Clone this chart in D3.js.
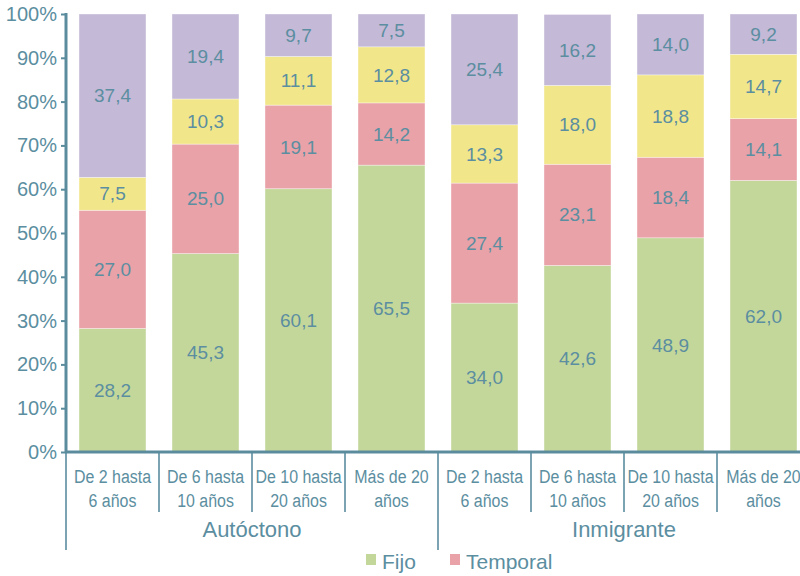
<!DOCTYPE html>
<html><head><meta charset="utf-8">
<script src="https://cdn.jsdelivr.net/npm/d3@7"></script>
<style>
html,body{margin:0;padding:0;background:#fff;}
svg{display:block;}
text{font-family:"Liberation Sans",Arial,sans-serif;fill:#5b8ea0;}
</style></head>
<body>
<svg id="chart" width="800" height="576"></svg>
<script>
const groups = ["Autóctono", "Inmigrante"];
const periods = [["De 2 hasta","6 años"],["De 6 hasta","10 años"],["De 10 hasta","20 años"],["Más de 20","años"]];
const seriesNames = ["Fijo", "Temporal", "Otro 1", "Otro 2"];
const fijo     = [28.2, 45.3, 60.1, 65.5, 34.0, 42.6, 48.9, 62.0];
const temporal = [27.0, 25.0, 19.1, 14.2, 27.4, 23.1, 18.4, 14.1];
const otro1    = [7.5, 10.3, 11.1, 12.8, 13.3, 18.0, 18.8, 14.7];
const otro2    = [37.4, 19.4, 9.7, 7.5, 25.4, 16.2, 14.0, 9.2];
const yTicks = [0,10,20,30,40,50,60,70,80,90,100];
const colors = ["#c4d79b", "#e8a2a8", "#f2e68a", "#c4b9d7"];
const legendShown = ["Fijo", "Temporal"];

const svg = d3.select("#chart");
const textColor = "#5b8ea0";
const axisColor = "#5a8c9e";

const cats = [];
groups.forEach((g,gi)=>periods.forEach((p,pi)=>cats.push({id:g+"|"+pi, group:g, gi, lines:p})));
const rows = cats.map((c,i)=>({id:c.id, s0:fijo[i], s1:temporal[i], s2:otro1[i], s3:otro2[i]}));

const x = d3.scaleBand().domain(cats.map(c=>c.id)).range([66, 66+93*8]).paddingInner(0.28).paddingOuter(0.14);
const y = d3.scaleLinear().domain([0,100]).range([452,14]);

const stack = d3.stack().keys(["s0","s1","s2","s3"]);
const layers = stack(rows);

const g = svg.append("g");
layers.forEach((layer, li)=>{
  g.selectAll(null).data(layer).enter().append("rect")
    .attr("x", d=>x(d.data.id))
    .attr("width", x.bandwidth())
    .attr("y", d=>y(Math.min(100,d[1])))
    .attr("height", d=>y(d[0]) - y(Math.min(100,d[1])))
    .attr("fill", colors[li])
    .attr("stroke", "#ffffff").attr("stroke-width", 0.6).attr("stroke-opacity", 0.6);
  g.selectAll(null).data(layer).enter().append("text")
    .attr("x", d=>x(d.data.id) + x.bandwidth()/2)
    .attr("y", d=>(y(d[0]) + y(Math.min(100,d[1])))/2)
    .attr("dy", "0.35em")
    .attr("text-anchor","middle")
    .style("font-size","19px")
    .text(d=>(d[1]-d[0]).toFixed(1).replace(".",","));
});

// Y axis
const yAxis = d3.axisLeft(y).tickValues(yTicks).tickSize(5).tickPadding(4).tickFormat(d=>d+"%");
const ya = svg.append("g").attr("transform","translate(66,0)").call(yAxis);
ya.select(".domain").remove();
ya.selectAll(".tick line").attr("stroke", axisColor).attr("stroke-width", 2);
ya.selectAll(".tick text").style("font-size","20px").attr("fill", textColor).style("font-family","'Liberation Sans',Arial,sans-serif");
svg.append("line").attr("x1",66).attr("x2",66).attr("y1",13).attr("y2",453).attr("stroke",axisColor).attr("stroke-width",3);

// X axis line
svg.append("line").attr("x1",65).attr("x2",800).attr("y1",452).attr("y2",452).attr("stroke",axisColor).attr("stroke-width",3);

// Category separators and labels
const step = x.step();
cats.forEach((c,i)=>{
  const left = x(c.id) - x.paddingOuter()*step;
  const isGroupStart = (i % periods.length === 0);
  svg.append("line").attr("x1",left).attr("x2",left).attr("y1",452).attr("y2", isGroupStart ? 550 : 512)
    .attr("stroke",axisColor).attr("stroke-width",1.6);
  const cx = x(c.id) + x.bandwidth()/2;
  const t = svg.append("text").attr("transform",`translate(${cx},0) scale(0.84,1)`).attr("text-anchor","middle")
    .style("font-size","19px");
  t.append("tspan").attr("x",0).attr("y",483).text(c.lines[0]);
  t.append("tspan").attr("x",0).attr("y",507).text(c.lines[1]);
});
const endX = x.range()[1];
svg.append("line").attr("x1",endX).attr("x2",endX).attr("y1",452).attr("y2",550).attr("stroke",axisColor).attr("stroke-width",1.6);

// Group labels
groups.forEach((gname,gi)=>{
  const ids = cats.filter(c=>c.gi===gi).map(c=>c.id);
  const l = x(ids[0]) - x.paddingOuter()*step;
  const r = x(ids[ids.length-1]) + x.bandwidth() + x.paddingOuter()*step;
  svg.append("text").attr("x",(l+r)/2).attr("y",537).attr("text-anchor","middle")
    .style("font-size","22px").text(gname);
});

// Legend
const legendX = [366, 450];
legendShown.forEach((name,i)=>{
  const ci = seriesNames.indexOf(name);
  svg.append("rect").attr("x",legendX[i]).attr("y",554).attr("width",10).attr("height",11).attr("fill",colors[ci]);
  svg.append("text").attr("x",legendX[i]+16).attr("y",569).style("font-size","21px").text(name);
});
</script>
</body></html>
